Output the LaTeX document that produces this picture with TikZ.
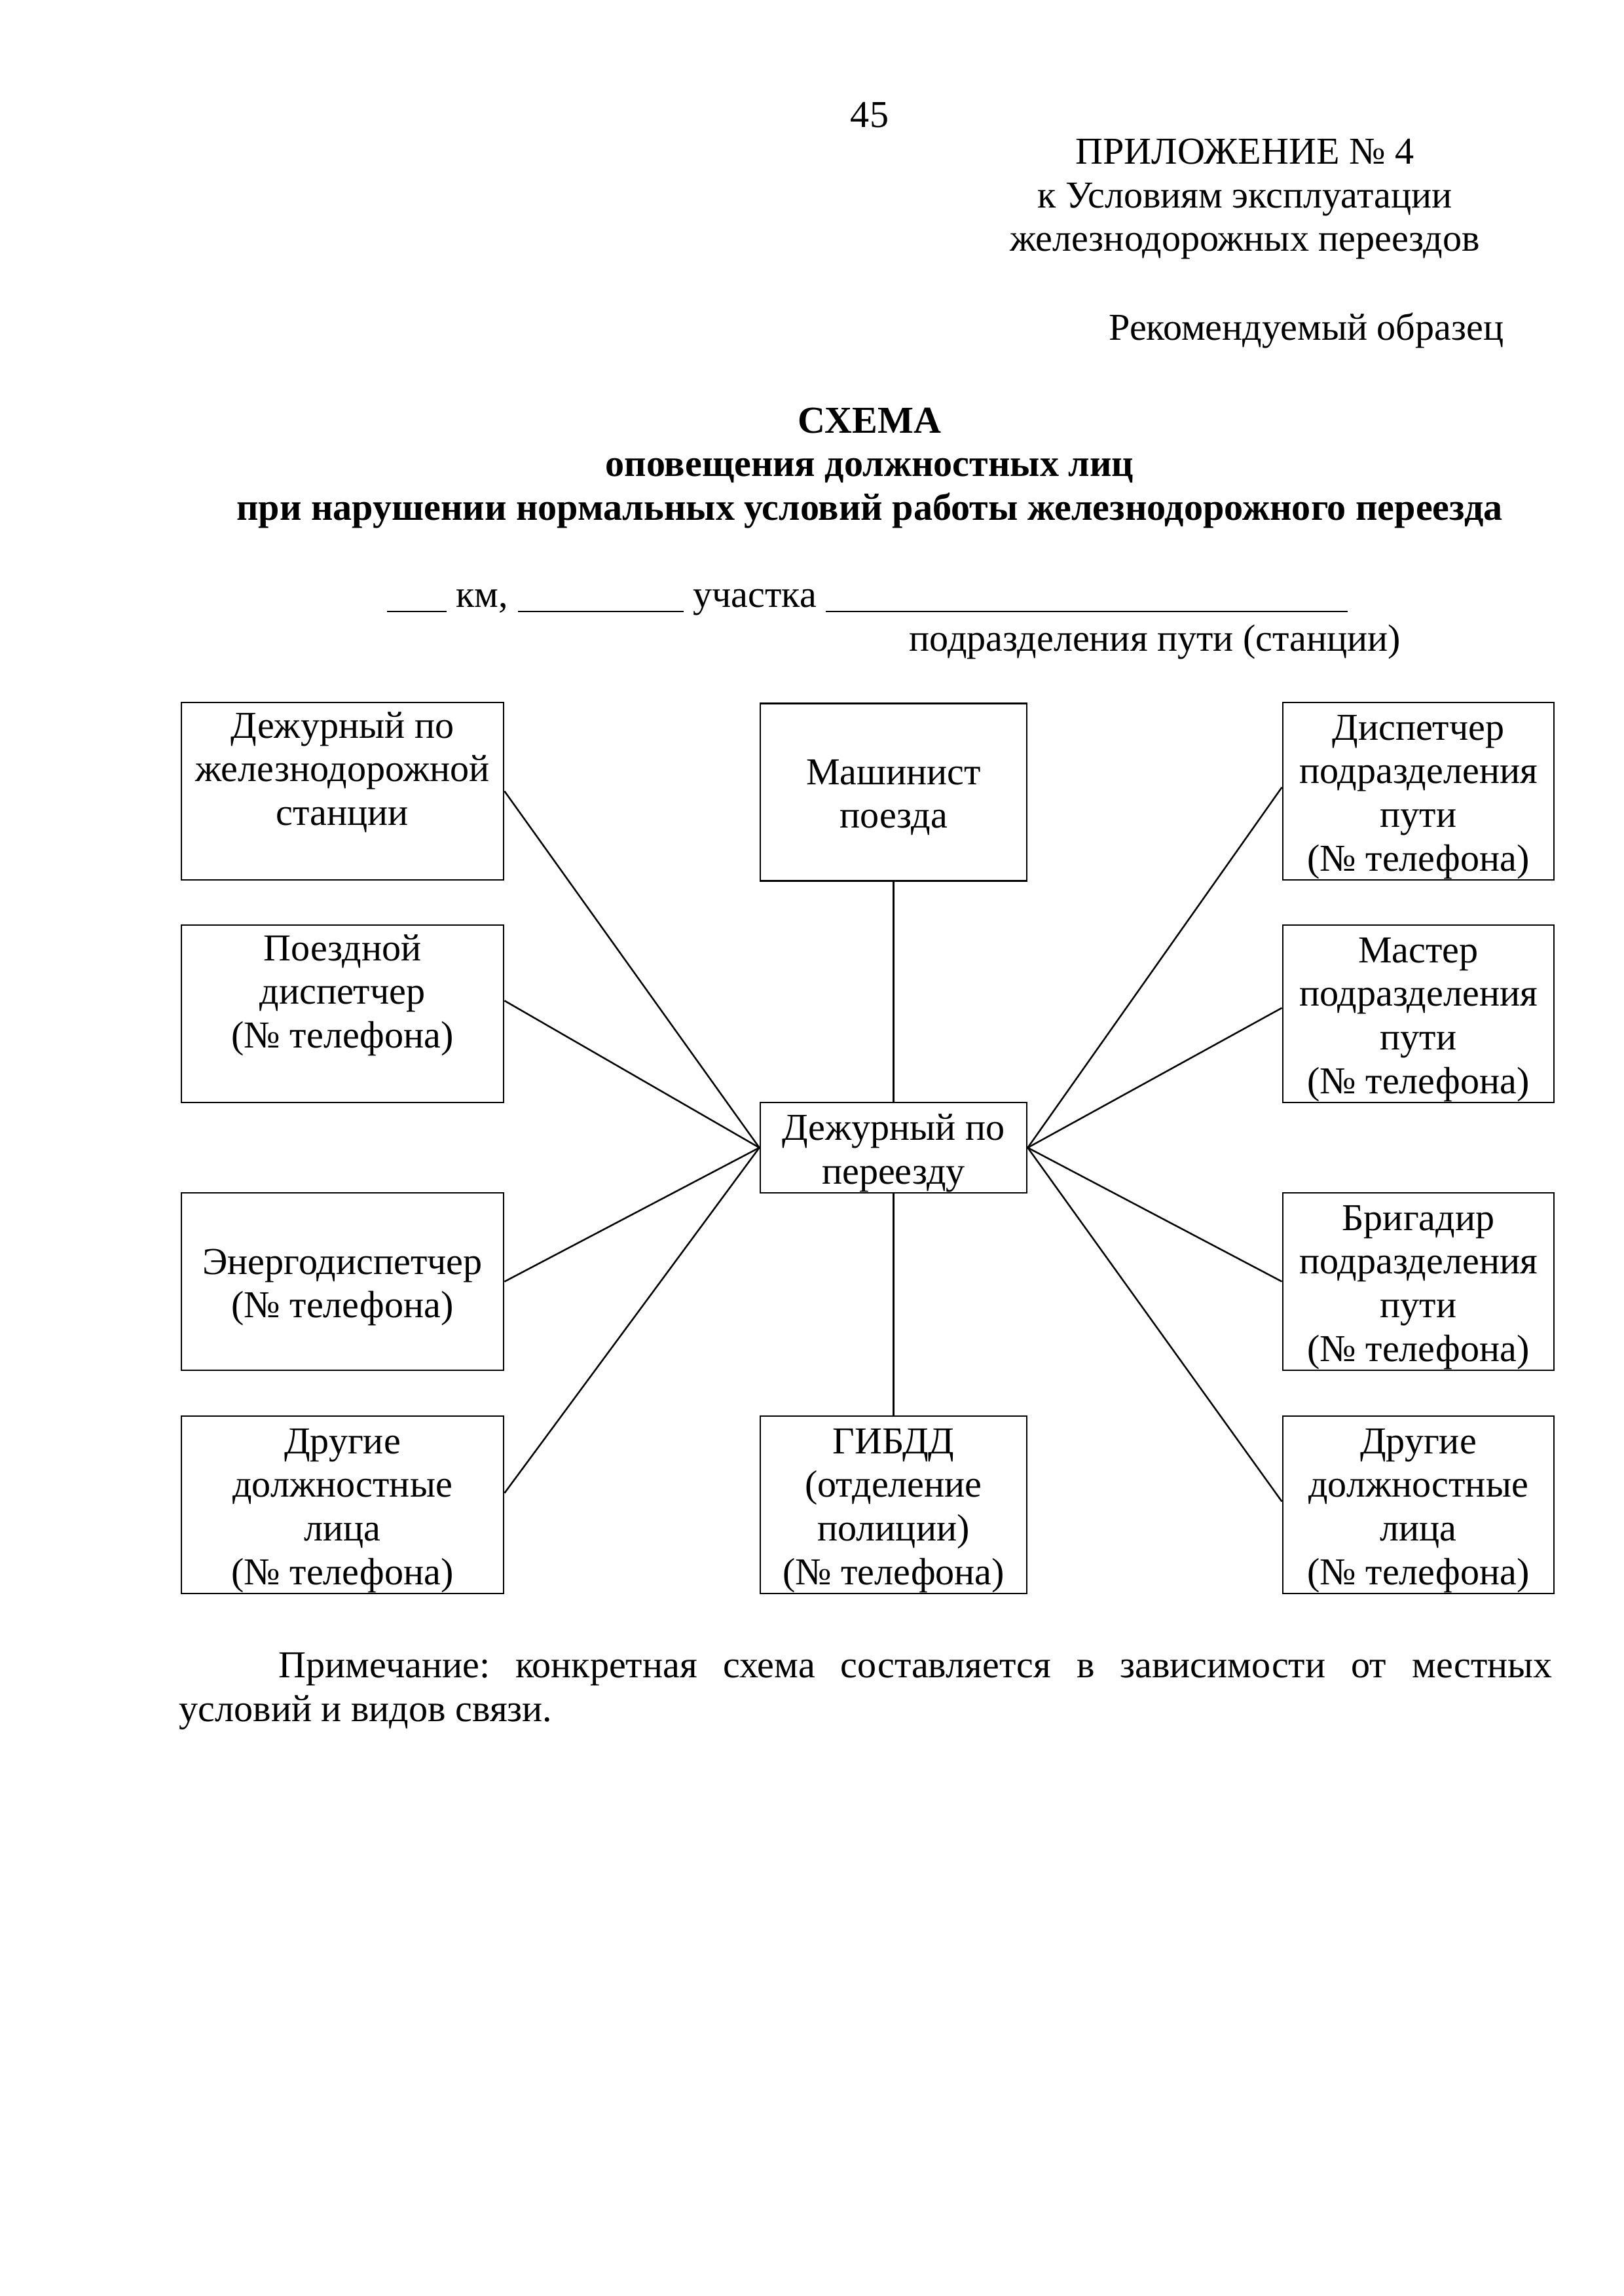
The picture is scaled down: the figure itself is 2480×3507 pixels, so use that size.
\documentclass[tikz,border=0pt]{standalone}
\usepackage{fontspec}
\setmainfont{Liberation Serif}
\usetikzlibrary{calc}
\begin{document}
\frenchspacing
\begin{tikzpicture}[x=0.0846774mm, y=-0.0846774mm,
  every node/.style={font=\fontsize{14pt}{16.1pt}\selectfont, inner sep=0pt},
  box/.style={draw, line width=0.7pt, minimum height={271*0.0846774mm}},
  lbox/.style={box, minimum width={492*0.0846774mm}},
  cbox/.style={box, minimum width={407*0.0846774mm}},
  rbox/.style={box, minimum width={414*0.0846774mm}},
  lab/.style={align=center},
  link/.style={line width=0.6pt},
  hd/.style={font=\fontsize{14pt}{16.1pt}\selectfont\bfseries, align=center}]
\fill[white] (0,0) rectangle (2480,3507);
\useasboundingbox (0,0) rectangle (2480,3507);

% header
\node (pg) at (1328,176) {45};
\node[align=center] (app) at (1901,304) {ПРИЛОЖЕНИЕ № 4\\к Условиям эксплуатации\\железнодорожных переездов};
\node[anchor=east] (rec) at (2297,505) {Рекомендуемый образец};
\node[hd] (title) at (1328,715) {СХЕМА\\оповещения должностных лиц\\при нарушении нормальных условий работы железнодорожного переезда};
\node[anchor=base west] (km) at (590,927) {\rule[-2pt]{22pt}{0.6pt} км, \rule[-2pt]{61pt}{0.6pt} участка \rule[-2pt]{192pt}{0.6pt}};
\node (sub) at (1764,981) {подразделения пути (станции)};

% boxes
\node[lbox] (b1) at (523,1208.5) {};
\node[lbox] (b2) at (523,1548.5) {};
\node[lbox] (b3) at (523,1957.5) {};
\node[lbox] (b4) at (523,2298.5) {};
\node[cbox] (m) at (1364.5,1210) {};
\node[cbox, minimum height={138*0.0846774mm}] (c) at (1364.5,1753) {};
\node[cbox] (g) at (1364.5,2298.5) {};
\node[rbox] (r1) at (2166,1208.5) {};
\node[rbox] (r2) at (2166,1548.5) {};
\node[rbox] (r3) at (2166,1957.5) {};
\node[rbox] (r4) at (2166,2298.5) {};

% box texts
\node[lab] (b1t) at ($(b1.center)+(0,9)$) {Дежурный по\\железнодорожной\\станции\\\strut};
\node[lab] (b2t) at ($(b2.center)+(0,9)$) {Поездной\\диспетчер\\(№ телефона)\\\strut};
\node[lab] (b3t) at ($(b3.center)+(0,9)$) {Энергодиспетчер\\(№ телефона)};
\node[lab] (b4t) at ($(b4.center)+(0,9)$) {Другие\\должностные\\лица\\(№ телефона)};
\node[lab] (mt) at ($(m.center)+(0,8)$) {Машинист\\поезда};
\node[lab] (ct) at ($(c.center)+(0,8)$) {Дежурный по\\переезду};
\node[lab] (gt) at ($(g.center)+(0,9)$) {ГИБДД\\(отделение\\полиции)\\(№ телефона)};
\node[lab] (r1t) at ($(r1.center)+(0,9)$) {Диспетчер\\подразделения\\пути\\(№ телефона)};
\node[lab] (r2t) at ($(r2.center)+(0,9)$) {Мастер\\подразделения\\пути\\(№ телефона)};
\node[lab] (r3t) at ($(r3.center)+(0,9)$) {Бригадир\\подразделения\\пути\\(№ телефона)};
\node[lab] (r4t) at ($(r4.center)+(0,9)$) {Другие\\должностные\\лица\\(№ телефона)};

% connectors
\draw[link] (c.west) -- (b1.east);
\draw[link] (c.west) -- ($(b2.east)+(0,-20)$);
\draw[link] (c.west) -- (b3.east);
\draw[link] (c.west) -- ($(b4.east)+(0,-18)$);
\draw[link] (c.east) -- ($(r1.west)+(0,-6)$);
\draw[link] (c.east) -- ($(r2.west)+(0,-9)$);
\draw[link] (c.east) -- (r3.west);
\draw[link] (c.east) -- ($(r4.west)+(0,-5)$);
\draw[link] (m.south) -- (c.north);
\draw[link] (c.south) -- (g.north);

% note
\node[anchor=north west, text width={2097*0.0846774mm}, align=justify] (note) at (273,2524) {\hspace*{36.6pt}Примечание: конкретная схема составляется в зависимости от местных\linebreak условий и видов связи.};
\end{tikzpicture}
\end{document}
